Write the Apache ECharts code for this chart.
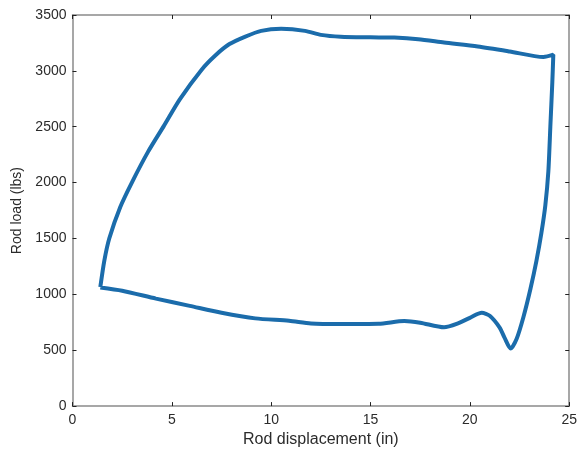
<!DOCTYPE html>
<html><head><meta charset="utf-8">
<script src="https://cdn.jsdelivr.net/npm/echarts@6/dist/echarts.min.js"></script>
<style>html,body{margin:0;padding:0;background:#fff}#c{width:580px;height:453px}</style>
</head><body><div id="c"></div>
<script>
// Loop data (rod displacement in, rod load lbs), traced in order
const displacement = [1.4,1.6,1.85,2.4,3.0,3.8,4.6,5.4,6.5,7.2,7.9,8.7,9.5,10.5,11.7,12.5,13.5,15.0,16.2,17.4,18.7,20.4,22.0,23.7,24.2,
  24.15,24.05,23.95,23.8,23.6,23.35,23.05,22.7,22.35,22.05,21.75,21.5,21.0,20.6,20.0,19.4,18.7,17.5,16.7,15.4,13.5,12.0,10.9,9.2,7.5,5.9,4.2,2.5,1.4];
const load = [1065,1300,1500,1780,2005,2275,2508,2745,3011,3140,3240,3307,3358,3376,3358,3322,3305,3300,3298,3284,3254,3218,3174,3124,3145,
  2900,2500,2100,1800,1550,1300,1050,800,600,515,610,702,808,835,790,740,705,746,761,737,735,740,764,785,835,897,962,1033,1062];
const xTicks = [0,5,10,15,20,25];
const yTicks = [0,500,1000,1500,2000,2500,3000,3500];

const points = displacement.map((x,i)=>[x,load[i]]);
const family = 'Liberation Sans, Arial, sans-serif';
const tickFont = {color:'#2b2b2b', fontSize:14, fontFamily:family};
const axisCommon = {
  axisLine:{show:true,onZero:false,lineStyle:{color:'#8a8a8a',width:1.5}},
  axisTick:{show:true,inside:true,length:4,lineStyle:{color:'#222',width:1}},
  splitLine:{show:false}
};
const chart = echarts.init(document.getElementById('c'));
chart.setOption({
  animation:false,
  grid:{left:72.5,right:7.5,top:15,bottom:44},
  xAxis:[
    Object.assign({type:'value',min:xTicks[0],max:xTicks[xTicks.length-1],interval:5,position:'bottom',
      name:'Rod displacement (in)',nameLocation:'middle',nameGap:25,
      nameTextStyle:{color:'#2b2b2b',fontSize:16,fontFamily:family},
      axisLabel:Object.assign({margin:7,formatter:v=>String(v)},tickFont)},axisCommon),
    Object.assign({type:'value',min:0,max:25,interval:5,position:'top',axisLabel:{show:false}},axisCommon)
  ],
  yAxis:[
    Object.assign({type:'value',min:yTicks[0],max:yTicks[yTicks.length-1],interval:500,position:'left',
      name:'Rod load (lbs)',nameLocation:'middle',nameGap:47,
      nameTextStyle:{color:'#2b2b2b',fontSize:14,fontFamily:family},
      axisLabel:Object.assign({margin:6,formatter:v=>String(v)},tickFont)},axisCommon),
    Object.assign({type:'value',min:0,max:3500,interval:500,position:'right',axisLabel:{show:false}},axisCommon)
  ],
  series:[{
    type:'line',xAxisIndex:0,yAxisIndex:0,data:points,smooth:0.25,showSymbol:false,
    lineStyle:{color:'#1b6cab',width:4},z:3
  }]
});
</script></body></html>
